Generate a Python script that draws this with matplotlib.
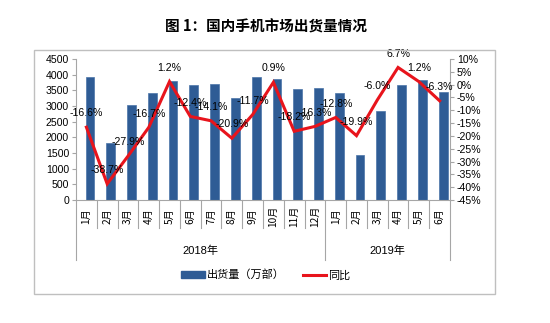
import matplotlib
matplotlib.use("Agg")
import matplotlib.pyplot as plt
from matplotlib.patches import Rectangle, Patch
from matplotlib.lines import Line2D
import matplotlib.transforms as mtransforms

plt.rcParams['font.family'] = ['Liberation Sans', 'Noto Sans CJK SC', 'DejaVu Sans']

months = ['1月', '2月', '3月', '4月', '5月', '6月', '7月', '8月', '9月', '10月', '11月', '12月',
          '1月', '2月', '3月', '4月', '5月', '6月']
years = ['2018年', '2019年']
year_counts = [12, 6]
shipments = [3920, 1810, 3020, 3430, 3790, 3670, 3710, 3260, 3920, 3850, 3530, 3560,
             3400, 1450, 2840, 3660, 3830, 3440]
yoy = [-16.6, -38.7, -27.9, -16.7, 1.2, -12.4, -14.1, -20.9, -11.7, 0.9, -18.2, -16.3,
       -12.8, -19.9, -6.0, 6.7, 1.2, -6.3]
left_ticks = list(range(0, 4501, 500))
right_ticks = list(range(-45, 11, 5))

W, H = 550, 323
fig = plt.figure(figsize=(5.5, 3.23), dpi=100)
fig.patch.set_facecolor('white')

ax_l, ax_r, ax_t, ax_b = 76, 450, 59, 200
ax = fig.add_axes([ax_l / W, (H - ax_b) / H, (ax_r - ax_l) / W, (ax_b - ax_t) / H])
ax_h = ax_b - ax_t

gray = '#a6a6a6'
blue = '#2f5c95'
red = '#e8141c'

x = list(range(len(months)))
ax.bar([i + 0.17 for i in x], shipments, width=0.42, color=blue, edgecolor='#4a74a8', linewidth=0.5, zorder=2)
ax.set_xlim(-0.5, len(months) - 0.5)
ax.set_ylim(0, 4500)
ax.set_yticks(left_ticks)
ax.set_yticklabels([str(v) for v in left_ticks], fontsize=7.6)
ax.set_xticks([])
for s in ['top', 'right']:
    ax.spines[s].set_visible(False)
for s in ['left', 'bottom']:
    ax.spines[s].set_color(gray)
    ax.spines[s].set_linewidth(0.8)
ax.tick_params(axis='y', direction='out', length=3, color=gray, width=0.8, pad=2, labelcolor='black')

ax2 = ax.twinx()
ax2.plot(x, yoy, color=red, lw=2.2, zorder=3, solid_joinstyle='miter')
ax2.set_ylim(-45, 10)
ax2.set_yticks(right_ticks)
ax2.set_yticklabels([f'{v}%' for v in right_ticks], fontsize=7.6)
for s in ['top', 'left', 'bottom']:
    ax2.spines[s].set_visible(False)
ax2.spines['right'].set_color(gray)
ax2.spines['right'].set_linewidth(0.8)
ax2.tick_params(axis='y', direction='out', length=3, color=gray, width=0.8, pad=2, labelcolor='black')

for i, v in zip(x, yoy):
    ax2.annotate(f'{v:.1f}%', (i, v), xytext=(0, 10), textcoords='offset points',
                 ha='center', va='center', fontsize=7.6, color='black', zorder=4)

# category axis separators and labels
trans = mtransforms.blended_transform_factory(ax.transData, ax.transAxes)
boundaries = [-0.5]
acc = -0.5
for c in year_counts:
    acc += c
    boundaries.append(acc)
for k in range(len(months) + 1):
    xb = k - 0.5
    long = xb in boundaries
    yend = -(60 / ax_h) if long else -(28 / ax_h)
    ax.plot([xb, xb], [0, yend], transform=trans, color=gray, lw=0.8, clip_on=False)
for i, m in enumerate(months):
    ax.text(i, -(16 / ax_h), m, transform=trans, rotation=90, ha='center', va='center',
            fontsize=7.3, family=['Noto Sans CJK SC', 'DejaVu Sans'])
start = -0.5
for yname, c in zip(years, year_counts):
    ax.text(start + c / 2, -(51 / ax_h), yname, transform=trans, ha='center', va='center',
            fontsize=8, family=['Liberation Sans', 'Noto Sans CJK SC'])
    start += c

# title
fig.text(266 / W, 1 - 27 / H, '图 1：国内手机市场出货量情况', ha='center', va='center',
         fontsize=10.5, fontweight='bold', family=['Noto Sans CJK SC', 'DejaVu Sans'])

# legend
handles = [Patch(facecolor=blue, edgecolor=blue), Line2D([0], [0], color=red, lw=2.2)]
fig.legend(handles, ['出货量（万部）', '同比'], loc='center', bbox_to_anchor=(266 / W, (H - 275) / H),
           ncol=2, frameon=False, handlelength=2.1, handleheight=0.6, handletextpad=0.2,
           columnspacing=1.6, prop={'family': ['Noto Sans CJK SC'], 'size': 8})

# outer frame
fig.patches.append(Rectangle((34 / W, (H - 294) / H), (495 - 34) / W, (294 - 50) / H,
                             fill=False, edgecolor='#bfbfbf', lw=1, transform=fig.transFigure))

fig.savefig('out.png', dpi=100)
